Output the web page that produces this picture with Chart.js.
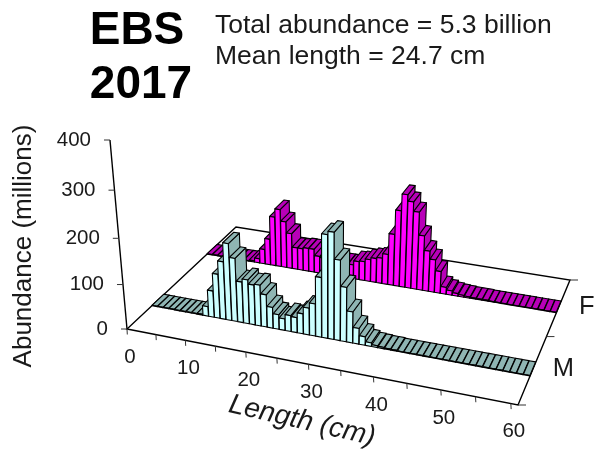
<!DOCTYPE html>
<html><head><meta charset="utf-8">
<style>html,body{margin:0;padding:0;background:#fff}canvas{display:block}</style>
<script src="https://cdn.jsdelivr.net/npm/chart.js@4"></script>
</head><body><canvas id="c" width="594" height="454"></canvas>
<script>
const lengthBins = Array.from({length:61},(_, i)=>String(i));
const maleValues = [1,1,1,1,1,1,1,1,2,22,60,100,130,172,142,92,99,90,92,73,47,33,26,36,34,45,60,72,132,225,232,176,120,69,35,19,8,4,3,2,2,1,1,1,1,1,1,1,1,1,1,1,1,1,1,1,1,1,1,1,1];
const femaleValues = [1,1,1,1,1,1,1,1,3,10,35,62,117,137,110,84,52,52,55,55,40,38,36,35,33,33,33,43,45,52,57,60,71,120,176,214,200,179,127,94,76,51,16,10,6,4,3,2,2,2,1,1,1,1,1,1,1,1,1,1,1];
const yTicks = [0,100,200,300,400];
const lengthTicks = [0,5,10,15,20,25,30,35,40,45,50,55,60];
const lengthLabels = [0,10,20,30,40,50,60];
const rowLabels = ['M','F'];
const rowTicks = [0,1,2];

const FONT='"Liberation Sans", Arial, sans-serif';
// perspective camera: floor corners and vertical vanishing point
const Q=[[127,329],[518,405],[570,280],[236,227]];
const VP=[330,2584], TOP_Y=140;
function homography(q){
  const [x0,y0]=q[0],[x1,y1]=q[1],[x2,y2]=q[2],[x3,y3]=q[3];
  const dx1=x1-x2,dx2=x3-x2,sx=x0-x1+x2-x3,dy1=y1-y2,dy2=y3-y2,sy=y0-y1+y2-y3;
  const den=dx1*dy2-dx2*dy1;
  const g=(sx*dy2-dx2*sy)/den,h=(dx1*sy-sx*dy1)/den;
  return {a:x1-x0+g*x1,b:x3-x0+h*x3,c:x0,d:y1-y0+g*y1,e:y3-y0+h*y3,f:y0,g,h};
}
const H=homography(Q);
const K=(TOP_Y-Q[0][1])/(VP[1]-TOP_Y);
function project(u,v,w){
  const W=H.g*u+H.h*v+1+K*w;
  return [(H.a*u+H.b*v+H.c+K*w*VP[0])/W,(H.d*u+H.e*v+H.f+K*w*VP[1])/W];
}
function poly(ctx,pts,fill){
  ctx.beginPath();pts.forEach((p,i)=>i?ctx.lineTo(p[0],p[1]):ctx.moveTo(p[0],p[1]));ctx.closePath();
  if(fill){ctx.fillStyle=fill;ctx.fill();}
  ctx.stroke();
}
function fracs(chart){
  const a=chart.chartArea,s=chart.scales;
  return {
    u:l=>(s.len.getPixelForValue(l)-a.left)/(a.right-a.left),
    v:r=>(a.bottom-s.depth.getPixelForValue(r))/(a.bottom-a.top),
    w:y=>(a.bottom-s.y.getPixelForValue(y))/(a.bottom-a.top)
  };
}
class Bar3D extends Chart.BarController{
  static id='bar3d';
  static defaults=Chart.BarController.defaults;
  draw(){
    const chart=this.chart,ctx=chart.ctx,ds=this.getDataset(),f=fracs(chart);
    const n=this.getMeta().data.length;
    ctx.save();ctx.strokeStyle='#000';ctx.lineWidth=1.1;ctx.lineJoin='round';
    const v0=f.v(ds.row+0.4),v1=f.v(ds.row+0.6);
    for(let i=0;i<n;i++){
      const val=this.getParsed(i).y,w=f.w(val);
      const u0=f.u(i+0.03),u1=f.u(i+0.97);
      const A=project(u0,v0,0),B=project(u1,v0,0),C=project(u1,v1,0);
      const At=project(u0,v0,w),Bt=project(u1,v0,w),Ct=project(u1,v1,w),Dt=project(u0,v1,w);
      poly(ctx,[B,C,Ct,Bt],ds.sideColor);
      poly(ctx,[At,Bt,Ct,Dt],ds.sideColor);
      poly(ctx,[A,B,Bt,At],ds.frontColor);
    }
    ctx.restore();
  }
}
Chart.register(Bar3D);
const frame={id:'frame',
  beforeDatasetsDraw(chart){
    const ctx=chart.ctx,f=fracs(chart),P=project;
    ctx.save();
    const c=[P(0,0,0),P(1,0,0),P(1,1,0),P(0,1,0)];
    ctx.strokeStyle='#000';ctx.lineWidth=1.4;
    poly(ctx,c,'#fff');
    // value axis
    ctx.beginPath();ctx.moveTo(...P(0,0,0));ctx.lineTo(...P(0,0,1));ctx.stroke();
    ctx.lineWidth=1;ctx.strokeStyle='#333';
    yTicks.forEach(t=>{const p=P(0,0,f.w(t));ctx.beginPath();ctx.moveTo(p[0],p[1]);ctx.lineTo(p[0]-6,p[1]);ctx.stroke();});
    lengthTicks.forEach(t=>{const p=P(f.u(t),0,0);ctx.beginPath();ctx.moveTo(p[0],p[1]);ctx.lineTo(p[0]+0.3,p[1]+5.5);ctx.stroke();});
    rowTicks.forEach(t=>{const p=P(1,f.v(t),0);ctx.beginPath();ctx.moveTo(p[0],p[1]);ctx.lineTo(p[0]+8,p[1]);ctx.stroke();});
    ctx.restore();
  },
  afterDatasetsDraw(chart){
    const ctx=chart.ctx,f=fracs(chart),P=project;
    ctx.save();ctx.fillStyle='#1a1a1a';ctx.textBaseline='middle';
    ctx.font='20.5px '+FONT;ctx.textAlign='right';
    yTicks.forEach(t=>{const p=P(0,0,f.w(t));ctx.fillText(String(t),p[0]-19,p[1]);});
    ctx.textAlign='center';
    lengthLabels.forEach(t=>{const p=P(f.u(t),0,0);ctx.fillText(String(t),p[0]+3,p[1]+28);});
    ctx.font='25.5px '+FONT;
    rowLabels.forEach((t,i)=>{const p=P(1,f.v(i+0.5),0);ctx.fillText(t,p[0]+(i?28:30.5),p[1]);});
    ctx.textAlign='left';
    ctx.font='26.5px '+FONT;
    ctx.fillText('Total abundance = 5.3 billion',215,26);
    ctx.fillText('Mean length = 24.7 cm',215,57);
    ctx.textAlign='center';ctx.fillStyle='#000';
    ctx.font='bold 46px '+FONT;
    ctx.fillText('EBS',137,31);
    ctx.fillText('2017',141,85);
    ctx.fillStyle='#1a1a1a';
    ctx.font='26px '+FONT;
    ctx.save();ctx.translate(24,246);ctx.rotate(-Math.PI/2);ctx.fillText('Abundance (millions)',0,0);ctx.restore();
    ctx.save();ctx.translate(302,421);ctx.rotate(13*Math.PI/180);ctx.font='italic 28px '+FONT;ctx.fillText('Length (cm)',0,0);ctx.restore();
    ctx.restore();
  }
};
new Chart(document.getElementById('c'),{
  type:'bar3d',
  data:{labels:lengthBins,datasets:[
    {label:rowLabels[0],data:maleValues,row:0,frontColor:'#CCFFFF',sideColor:'#8FB5B3',backgroundColor:'#CCFFFF'},
    {label:rowLabels[1],data:femaleValues,row:1,frontColor:'#FF00FF',sideColor:'#B800B8',backgroundColor:'#FF00FF'}
  ]},
  options:{responsive:false,animation:false,layout:{padding:0},
    plugins:{legend:{display:false},title:{display:false},tooltip:{enabled:false}},
    scales:{
      x:{display:false},
      y:{display:false,min:0,max:400},
      len:{type:'linear',axis:'x',position:'bottom',display:false,offset:false,min:0,max:61,ticks:{stepSize:5}},
      depth:{type:'linear',axis:'y',position:'right',display:false,min:0,max:2}
    }},
  plugins:[frame]
});
</script></body></html>
